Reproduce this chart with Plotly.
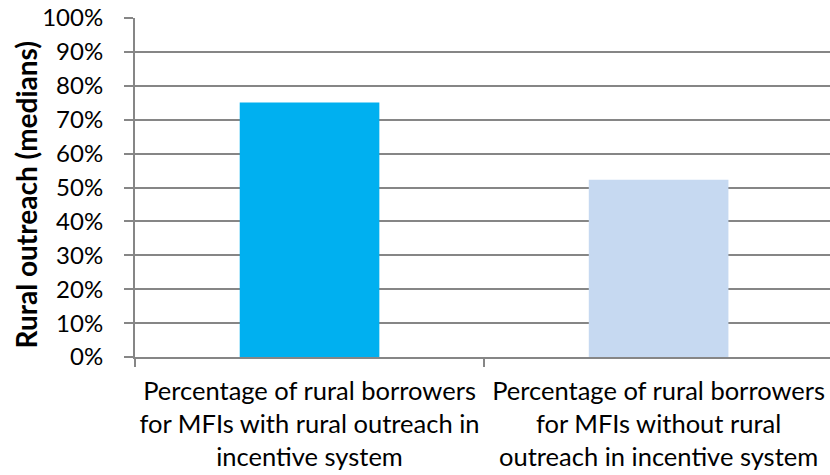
import plotly.graph_objects as go

categories = [
    "Percentage of rural borrowers<br>for MFIs with rural outreach in<br>incentive system",
    "Percentage of rural borrowers<br>for MFIs without rural<br>outreach in incentive system",
]
values = [0.751, 0.523]
bar_colors = ["#00B0F0", "#C6D9F1"]
y_tick_vals = [i / 10 for i in range(11)]
y_tick_text = [f"{i * 10}%" for i in range(11)]
y_title = "Rural outreach (medians)"

FONT = "Lato, Carlito, 'Open Sans', sans-serif"
GRID = "#868686"

fig = go.Figure(
    go.Bar(
        x=categories,
        y=values,
        marker=dict(color=bar_colors, line=dict(width=0)),
        width=0.4,
        hoverinfo="skip",
    )
)

fig.update_layout(
    width=830,
    height=475,
    margin=dict(l=135, r=0, t=18, b=118),
    paper_bgcolor="white",
    plot_bgcolor="white",
    showlegend=False,
    font=dict(family=FONT, size=24, color="#000000"),
)

fig.add_annotation(
    text="<b>" + y_title + "</b>",
    xref="paper",
    yref="paper",
    x=0,
    y=0.5,
    xanchor="center",
    yanchor="middle",
    textangle=-90,
    xshift=-110,
    yshift=-8,
    showarrow=False,
    font=dict(family=FONT, size=28, color="#000000"),
)

fig.update_xaxes(
    type="category",
    range=[-0.5, 1.491],
    tickson="boundaries",
    tickangle=0,
    ticks="outside",
    ticklen=8,
    tickcolor=GRID,
    tickwidth=2,
    ticklabelstandoff=10,
    showline=True,
    linecolor=GRID,
    linewidth=2,
    showgrid=False,
    automargin=False,
    ticklabeloverflow="allow",
    tickfont=dict(family=FONT, size=25.5, color="#000000"),
)

fig.update_yaxes(
    range=[0, 1],
    tickvals=y_tick_vals,
    ticktext=y_tick_text,
    ticks="outside",
    ticklen=9,
    tickcolor=GRID,
    tickwidth=2,
    ticklabelstandoff=16,
    showline=True,
    linecolor=GRID,
    linewidth=2,
    showgrid=True,
    gridcolor=GRID,
    gridwidth=2,
    zeroline=False,
    automargin=False,
    ticklabeloverflow="allow",
    tickfont=dict(family=FONT, size=24, color="#000000"),
)

fig.write_html(
    "out.html",
    config={"displayModeBar": False},
    post_script="document.body.style.margin='0';document.body.style.overflow='hidden';",
)
